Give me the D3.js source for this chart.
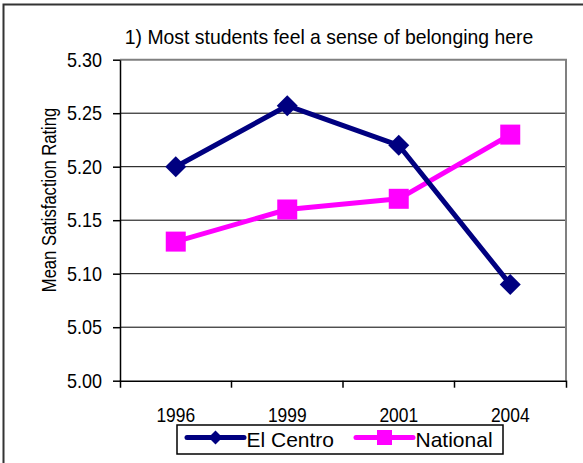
<!DOCTYPE html>
<html>
<head>
<meta charset="utf-8">
<script src="https://cdn.jsdelivr.net/npm/d3@7"></script>
<style>
	body { margin: 0; background: #fff; }
	text { font-family: "Liberation Sans", Arial, sans-serif; }
</style>
</head>
<body>
<svg id="chart" width="583" height="463"></svg>
<script>
var years = ["1996", "1999", "2001", "2004"],
	elCentro = [5.20, 5.257, 5.22, 5.09],
	national = [5.13, 5.16, 5.17, 5.23],
	yTicks = [5.00, 5.05, 5.10, 5.15, 5.20, 5.25, 5.30],
	seriesNames = ["El Centro", "National"];

var svg = d3.select("#chart"),
	width = +svg.attr("width"),
	height = +svg.attr("height"),
	pLeft = 120, pRight = 566, pTop = 59.7, pBottom = 380.7,
	x = d3.scaleBand().domain(years).range([pLeft, pRight]),
	y = d3.scaleLinear().domain([5.0, 5.3]).range([pBottom, pTop]),
	navy = "#000080",
	pink = "#ff00ff";

// the original uses a narrow-ish Arial, so squeeze Liberation Sans a bit
function sq(k) { return "scale(" + k + ",1)"; }

svg.append("rect").attr("width", width).attr("height", height).attr("fill", "#fff");

// outer chart border (only left and top visible)
svg.append("path")
	.attr("d", "M3.5," + height + "V4.5H" + width)
	.attr("fill", "none").attr("stroke", "#333").attr("stroke-width", 2);

// title
svg.append("text")
	.attr("transform", "translate(329,44.3) " + sq(0.97))
	.attr("text-anchor", "middle")
	.attr("font-size", 20)
	.text("1) Most students feel a sense of belonging here");

// gridlines
svg.append("g").selectAll("line")
	.data(yTicks.slice(1, -1))
	.enter().append("line")
	.attr("x1", pLeft).attr("x2", pRight)
	.attr("y1", function(d) { return y(d); })
	.attr("y2", function(d) { return y(d); })
	.attr("stroke", "#000").attr("stroke-width", 1);

// plot area border top + right
svg.append("path")
	.attr("d", "M" + pLeft + "," + pTop + "H" + pRight + "V" + pBottom)
	.attr("fill", "none").attr("stroke", "#808080").attr("stroke-width", 2);

// y axis
var yAxis = svg.append("g")
	.attr("transform", "translate(" + pLeft + ",0)")
	.call(d3.axisLeft(y).tickValues(yTicks).tickFormat(d3.format(".2f")).tickSize(7).tickSizeOuter(0).tickPadding(11));
yAxis.attr("font-family", null);
yAxis.selectAll("text")
	.attr("font-size", 20).attr("fill", "#000")
	.attr("x", -18 / 0.9)
	.attr("transform", sq(0.9));
yAxis.selectAll("line, path").attr("stroke", "#000").attr("stroke-width", 1.5);

// x axis, ticks sit between categories
var xAxis = svg.append("g")
	.attr("transform", "translate(0," + pBottom + ")")
	.call(d3.axisBottom(x).tickSizeInner(0).tickSizeOuter(7).tickPadding(27));
xAxis.attr("font-family", null);
xAxis.selectAll("text")
	.attr("font-size", 20).attr("fill", "#000")
	.attr("transform", sq(0.87));
xAxis.selectAll("path").attr("stroke", "#000").attr("stroke-width", 1.5);
xAxis.selectAll(".sep")
	.data(years.slice(1))
	.enter().append("line")
	.attr("x1", function(d) { return x(d); })
	.attr("x2", function(d) { return x(d); })
	.attr("y1", 0).attr("y2", 7)
	.attr("stroke", "#000").attr("stroke-width", 1.5);

// y axis title
svg.append("text")
	.attr("transform", "translate(56,200) rotate(-90) " + sq(0.83))
	.attr("text-anchor", "middle")
	.attr("font-size", 20)
	.text("Mean Satisfaction Rating");

var line = d3.line()
	.x(function(d, i) { return x(years[i]) + x.bandwidth() / 2; })
	.y(function(d) { return y(d); });

function drawSeries(values, color, marker, rot) {
	svg.append("path")
		.datum(values)
		.attr("d", line)
		.attr("fill", "none")
		.attr("stroke", color)
		.attr("stroke-width", 5)
		.attr("stroke-linejoin", "round");
	svg.append("g").selectAll("path")
		.data(values)
		.enter().append("path")
		.attr("d", marker)
		.attr("transform", function(d, i) {
			return "translate(" + (x(years[i]) + x.bandwidth() / 2) + "," + y(d) + ") rotate(" + rot + ")";
		})
		.attr("fill", color);
}

drawSeries(national, pink, d3.symbol().type(d3.symbolSquare).size(400), 0);
drawSeries(elCentro, navy, d3.symbol().type(d3.symbolSquare).size(220), 45);

// legend
var legend = svg.append("g");
legend.append("rect")
	.attr("x", 177).attr("y", 425).attr("width", 326).attr("height", 29)
	.attr("fill", "#fff").attr("stroke", "#000").attr("stroke-width", 1.5);

var legendItems = [
	{ name: seriesNames[0], color: navy, x0: 187, x1: 244, marker: d3.symbol().type(d3.symbolSquare).size(98), rot: 45 },
	{ name: seriesNames[1], color: pink, x0: 356, x1: 413, marker: d3.symbol().type(d3.symbolSquare).size(225), rot: 0 }
];

legendItems.forEach(function(d) {
	legend.append("line")
		.attr("x1", d.x0).attr("x2", d.x1)
		.attr("y1", 437.5).attr("y2", 437.5)
		.attr("stroke", d.color).attr("stroke-width", 5)
		.attr("stroke-linecap", "round");
	legend.append("path")
		.attr("d", d.marker)
		.attr("transform", "translate(" + ((d.x0 + d.x1) / 2) + ",437.5) rotate(" + d.rot + ")")
		.attr("fill", d.color);
	legend.append("text")
		.attr("x", d.x1 + 2.5).attr("y", 446.7)
		.attr("font-size", 21)
		.text(d.name);
});
</script>
</body>
</html>
